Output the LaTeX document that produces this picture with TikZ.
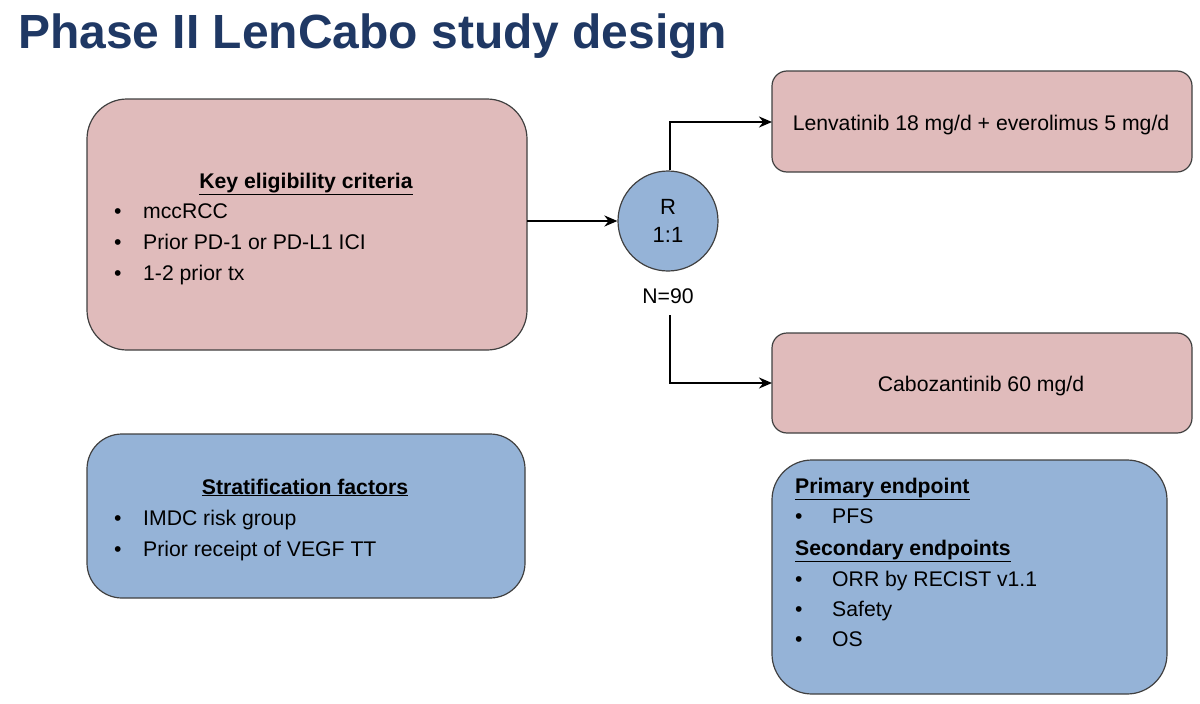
\documentclass[tikz,border=0pt]{standalone}
\usepackage{fontspec}
\setmainfont{Liberation Sans}
\usetikzlibrary{arrows.meta}
\definecolor{pinkf}{HTML}{E0BBBB}
\definecolor{bluef}{HTML}{95B3D7}
\definecolor{navy}{HTML}{1F3864}
\definecolor{edge}{HTML}{404040}
\newcommand{\fs}{\fontsize{21.2}{25}\selectfont}
\begin{document}
\begin{tikzpicture}[x=1pt,y=-1pt,
  box/.style={draw=edge,line width=1.2pt},
  txt/.style={anchor=base west,inner sep=0,font=\fs},
  ctxt/.style={anchor=base,inner sep=0,font=\fs},
  arr/.style={line width=2.5pt,-{Stealth[length=13pt,width=11pt]}}]
\useasboundingbox (0,0) rectangle (1200,704);
\node[anchor=base west,inner sep=0,text=navy] (title) at (18,48)
  {\resizebox{709pt}{!}{\fontsize{48}{52}\selectfont\bfseries Phase II LenCabo study design}};
% boxes
\draw[box,fill=pinkf,rounded corners=40pt] (87,99) rectangle (527,350);
\coordinate (eligR) at (527,221);
\draw[box,fill=bluef,rounded corners=35pt] (87,434) rectangle (525,598);
\draw[box,fill=pinkf,rounded corners=15pt] (772,71) rectangle (1192,172);
\coordinate (lenL) at (772,122);
\draw[box,fill=pinkf,rounded corners=15pt] (772,333) rectangle (1192,433);
\coordinate (cabL) at (772,383);
\draw[box,fill=bluef,rounded corners=40pt] (772,460) rectangle (1167,694);
% circle
\node[circle,draw=edge,line width=1.2pt,fill=bluef,minimum size=100pt,inner sep=0,
  align=center,font=\fontsize{22}{28}\selectfont] (R) at (668,221) {R\\1:1};
\node[ctxt] (N) at (668,303) {N=90};
\coordinate (Nbot) at (670,315);
% arrows
\draw[arr] (eligR) -- (R.west);
\draw[arr] (R.north -| 670,0) |- (lenL);
\draw[arr] (Nbot) |- (cabL);
% texts
\node[ctxt,font=\fs\bfseries] at (306,188) {\underline{Key eligibility criteria}};
\foreach \y/\t in {218/mccRCC,249/Prior PD-1 or PD-L1 ICI,280/1-2 prior tx}{
  \node[txt] at (114,\y) {•}; \node[txt] at (143,\y) {\t};}
\node[ctxt,font=\fs\bfseries] at (305,494) {\underline{Stratification factors}};
\foreach \y/\t in {525/IMDC risk group,556/Prior receipt of VEGF TT}{
  \node[txt] at (114,\y) {•}; \node[txt] at (143,\y) {\t};}
\node[ctxt] at (981,130) {Lenvatinib 18 mg/d + everolimus 5 mg/d};
\node[ctxt] at (981,391) {Cabozantinib 60 mg/d};
\node[txt,font=\fs\bfseries] at (795,493) {\underline{Primary endpoint}};
\node[txt] at (795,523) {•}; \node[txt] at (832,523) {PFS};
\node[txt,font=\fs\bfseries] at (795,555) {\underline{Secondary endpoints}};
\foreach \y/\t in {586/ORR by RECIST v1.1,616/Safety,646/OS}{
  \node[txt] at (795,\y) {•}; \node[txt] at (832,\y) {\t};}
\end{tikzpicture}
\end{document}
